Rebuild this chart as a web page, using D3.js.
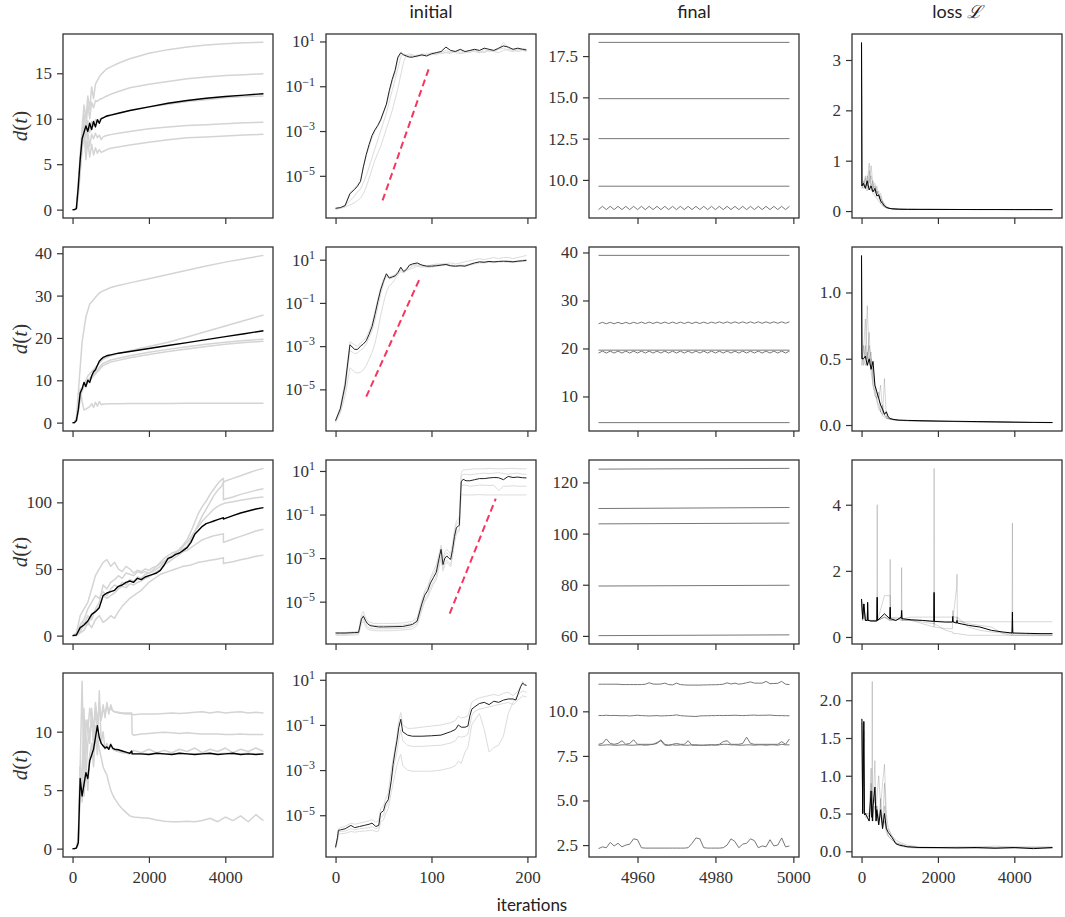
<!DOCTYPE html>
<html>
<head>
<meta charset="utf-8">
<script src="https://d3js.org/d3.v7.min.js"></script>
<style>
  body { margin: 0; background: #fff; }
</style>
</head>
<body>
<div id="chart-area"></div>
<script>
// ---------- data ----------
// iterations used by d(t) and loss panels of rows 1-2
var runX = [0,10,50,100,150,200,250,300,350,400,450,500,550,600,650,700,750,800,850,900,950,1000,1200,1500,2000,2500,3000,3500,4000,4500,4999];

var dist1Mean = [0,0,0,0.1,2.5,5.5,7.8,8.5,9.2,8.6,9.5,8.8,9.7,9.1,9.9,9.5,10.0,10.1,10.2,10.3,10.35,10.4,10.6,10.9,11.3,11.7,12.0,12.25,12.45,12.6,12.75];
var dist1Runs = [
  [0,0,0,0.1,3,6,9,11.5,10,12.5,11,13.5,12.2,13.8,14.2,14.6,14.9,15.1,15.3,15.5,15.6,15.7,16.1,16.6,17.2,17.6,17.9,18.1,18.25,18.35,18.4],
  [0,0,0,0.1,2.5,5.5,8,10.5,9,11.5,10,11.8,11.2,12,11.9,12.1,12.2,12.3,12.4,12.5,12.6,12.7,13.0,13.4,13.8,14.1,14.4,14.6,14.75,14.85,14.95],
  [0,0,0,0.1,2,5,8,9.5,8,9.8,8.5,9.7,9.2,9.9,9.6,9.9,10.0,10.1,10.2,10.3,10.3,10.4,10.6,10.9,11.3,11.6,11.9,12.1,12.3,12.45,12.5],
  [0,0,0,0.1,2,4.5,7,9,6.5,8.5,7,8.3,7.8,8.4,7.9,8.2,7.7,8.0,8.1,8.15,8.2,8.25,8.4,8.6,8.9,9.1,9.25,9.35,9.45,9.55,9.6],
  [0,0,0,0.1,1.5,4,6.5,8.5,5.5,7.5,5.8,7.2,6.0,6.8,6.2,6.6,6.3,6.4,6.5,6.6,6.7,6.75,6.9,7.1,7.4,7.7,7.9,8.0,8.1,8.2,8.3]
];
var dist2Mean = [0,0,0,0.5,3,7,8,9.5,8.5,10,9.5,11,12,12.5,13.5,14.5,15.0,15.4,15.6,15.8,15.9,16.0,16.4,16.8,17.5,18.2,18.9,19.6,20.3,21.0,21.7];
var dist2Runs = [
  [0,0,0,1,7,13,19,22,25,26.5,28,28.5,29,29.6,30.1,30.6,30.9,31.1,31.3,31.5,31.7,31.9,32.4,33.0,34.0,35.0,36.0,37.0,37.9,38.7,39.5],
  [0,0,0,0.5,3,6,8,9,10,11,11.5,12,12.5,13,13.5,14,14.5,15,15.2,15.4,15.6,15.8,16.3,17.0,18.0,19.0,20.2,21.5,22.8,24.1,25.4],
  [0,0,0,0.5,3,6,8,9,9.5,10,10.5,11,11.5,12,12.5,13,13.5,14,14.2,14.4,14.6,14.8,15.2,15.8,16.6,17.3,17.9,18.5,19.0,19.4,19.7],
  [0,0,0,0.5,2.5,5.5,7.5,8.5,9,9.5,10,10.5,11,11.5,12,12.5,13,13.5,13.7,13.9,14.1,14.3,14.7,15.3,16.1,16.8,17.4,18.0,18.5,18.9,19.2],
  [0,0,0,1,4,8,5,3,3.2,3.5,3.8,4.5,3.6,4.8,3.9,5.0,4.2,4.4,4.4,4.4,4.45,4.45,4.45,4.5,4.5,4.5,4.55,4.55,4.6,4.6,4.6]
];

var dist3X = [0,100,200,300,400,500,600,700,800,900,1000,1100,1200,1300,1400,1500,1600,1700,1800,1900,2000,2100,2200,2300,2400,2500,2600,2700,2800,2900,3000,3100,3200,3300,3400,3500,3600,3700,3800,3900,3950,3951,4000,4200,4400,4600,4800,4999];
var dist3Mean = [0,0.5,6,8,11,16,18,21,30,32,33,34,37,38,40,41,40,43,42,44,45,46,47,49,53,58,59,61,62,64,66,70,76,79,82,84,85,86,87,88,88.5,87.5,88,90,92,93.5,95,96];
var dist3Runs = [
  [0,1,8,12,20,25,30,28,33,30,35,38,36,40,38,42,41,44,43,46,47,49,52,55,58,60,62,63,64,65,67,72,78,84,90,95,100,105,109,112,115,115,116,118,120,122,124,125.5],
  [0,2,15,20,25,35,45,50,55,57,52,55,50,48,52,50,47,49,48,50,49,51,52,54,56,58,60,62,65,68,72,78,85,92,97,101,106,110,114,117,118,102,102.5,104,106,107.5,109,110.2],
  [0,0.5,3,8,15,12,20,25,38,35,40,42,45,43,47,46,45,48,47,48,47,48,50,52,55,57,59,62,64,67,70,74,78,82,86,89,92,95,97,98.5,99,99,99.5,100.5,101.5,102.5,103.5,104.1],
  [0,0.5,5,10,8,15,18,22,30,28,30,32,35,37,36,39,38,40,41,43,44,46,48,50,53,55,57,59,61,63,64,66,68,70,72,73,74,75,75.5,76,76.5,70,70.5,72.5,74.5,76.5,78.5,79.8],
  [0,0,2,4,10,6,12,15,10,12,15,13,18,22,25,28,30,32,34,37,40,42,44,46,47,48,49,50,51,52,52.5,53,54,55,55.5,56,56.5,57,57.5,58,58.5,54,54.5,55.5,57,58,59.5,60.4]
];

var dist4X = [0,50,100,150,200,250,300,350,400,450,500,550,600,650,700,750,800,850,900,950,1000,1050,1100,1200,1300,1400,1500,1550,1560,1600,1800,2000,2200,2400,2600,2800,3000,3200,3400,3600,3800,4000,4200,4400,4600,4800,4999];
var dist4Mean = [0,0,0.05,0.5,6,4.5,5.5,6.5,6,7.5,8,8.5,9.5,10.5,9.5,9,8.8,8.6,8.7,8.5,8.9,8.6,8.5,8.45,8.35,8.25,8.15,8.35,8.1,8.1,8.1,8.05,8.15,8.1,8.05,8.15,8.1,8.05,8.1,8.15,8.05,8.1,8.15,8.05,8.1,8.05,8.1];
var dist4Runs = [
  [0,0,0.05,0.5,7,5,12,6,9,10,11,9,12,10,12.5,11,12,11.5,12.2,11.8,12,11.8,11.7,11.6,11.55,11.5,11.5,11.5,11.5,11.45,11.5,11.5,11.5,11.55,11.6,11.55,11.6,11.65,11.7,11.6,11.7,11.6,11.65,11.7,11.6,11.65,11.6],
  [0,0,0.05,0.3,5,7,10,8,11,9,12,10,12.5,11,12,11,12.3,11.2,12.5,11.5,12.3,11.8,11.7,11.65,11.6,11.6,11.6,11.6,9.8,9.7,9.8,9.85,9.9,9.95,9.9,9.85,9.9,9.85,9.8,9.8,9.8,9.75,9.75,9.8,9.75,9.75,9.75],
  [0,0,0.05,0.5,7,4,6,7,5,8,9,7,10,8,13.5,9,10,8.5,9,8.5,9,8.5,8.4,8.3,8.25,8.2,8.2,8.3,8.2,8.4,8.2,8.5,8.2,8.4,8.2,8.5,8.3,8.6,8.2,8.5,8.3,8.6,8.2,8.5,8.3,8.6,8.3],
  [0,0,0.05,0.5,5,6,4.5,7,6,8,8.5,9,10,9.5,9.5,9,8.8,8.6,8.6,8.5,8.8,8.5,8.4,8.3,8.2,8.15,8.1,8.15,8.1,8.1,8.1,8.1,8.15,8.1,8.1,8.15,8.1,8.1,8.15,8.1,8.1,8.15,8.1,8.1,8.15,8.1,8.1],
  [0,0,0.05,1,7,14.3,6,11,10,12,11,9,10.5,9.5,8.5,7.8,7.0,6.6,6.3,5.6,5.0,4.6,4.3,3.8,3.4,3.1,2.8,2.75,2.75,2.7,2.65,2.6,2.45,2.35,2.3,2.3,2.35,2.3,2.4,2.6,2.3,2.7,2.4,2.8,2.3,2.9,2.4]
];

// "initial" panels: values are log10 of d(t)
var initX = [0,5,10,15,20,23,26,29,32,35,38,41,44,47,50,53,56,59,62,65,68,71,74,77,80,85,90,95,100,105,110,115,120,125,130,135,140,145,150,155,160,165,170,175,180,185,190,195,199];
var init1Mean = [-6.45,-6.42,-6.33,-5.8,-5.6,-5.45,-5.25,-4.6,-4.05,-3.6,-3.2,-2.95,-2.75,-2.5,-2.15,-1.8,-1.2,-0.7,-0.3,0.3,0.5,0.4,0.35,0.3,0.3,0.35,0.4,0.35,0.45,0.5,0.55,0.75,0.6,0.55,0.65,0.55,0.6,0.65,0.6,0.7,0.65,0.6,0.7,0.8,0.75,0.65,0.7,0.65,0.62];
var init1Runs = [
  [-6.45,-6.45,-6.35,-6.1,-5.9,-5.7,-5.6,-5.3,-5.0,-4.6,-4.2,-3.8,-3.4,-3.0,-2.6,-2.2,-1.7,-1.2,-0.7,-0.2,0.3,0.45,0.4,0.35,0.4,0.3,0.4,0.45,0.4,0.5,0.45,0.5,0.55,0.5,0.45,0.5,0.6,0.55,0.5,0.55,0.6,0.55,0.5,0.6,0.65,0.6,0.55,0.6,0.55],
  [-6.45,-6.45,-6.4,-6.3,-6.2,-6.1,-6.0,-5.8,-5.5,-5.1,-4.7,-4.3,-4.0,-3.7,-3.3,-2.9,-2.5,-2.1,-1.6,-1.1,-0.5,0.1,0.4,0.45,0.4,0.35,0.45,0.4,0.5,0.45,0.55,0.5,0.45,0.6,0.5,0.55,0.5,0.6,0.55,0.5,0.6,0.55,0.65,0.96,0.7,0.65,0.6,0.7,0.65],
  [-6.51,-6.45,-6.3,-5.75,-5.55,-5.4,-5.2,-4.6,-4.1,-3.7,-3.3,-3.0,-2.8,-2.55,-2.2,-1.85,-1.3,-0.8,-0.4,0.2,0.45,0.4,0.3,0.35,0.3,0.4,0.35,0.4,0.45,0.4,0.5,0.6,0.5,0.55,0.6,0.5,0.55,0.6,0.5,0.65,0.55,0.6,0.65,0.7,0.6,0.55,0.65,0.6,0.6]
];
var init2Mean = [-6.45,-5.9,-4.8,-2.94,-3.15,-3.15,-3.0,-2.9,-2.75,-2.45,-2.1,-1.55,-0.95,-0.4,0.0,0.35,0.15,0.2,0.25,0.4,0.65,0.45,0.55,0.75,0.8,0.85,0.75,0.7,0.7,0.72,0.75,0.78,0.72,0.7,0.72,0.7,0.78,0.85,0.9,0.88,0.92,0.9,0.92,0.93,0.92,0.9,0.93,0.95,0.97];
var init2Runs = [
  [-6.45,-6.0,-5.0,-3.2,-3.35,-3.3,-3.2,-3.1,-2.9,-2.6,-2.3,-1.8,-1.2,-0.6,-0.1,0.25,0.1,0.15,0.2,0.35,0.55,0.4,0.5,0.6,0.7,0.75,0.7,0.65,0.65,0.7,0.72,0.75,0.7,0.68,0.7,0.72,0.75,0.8,0.85,0.85,0.88,0.86,0.9,0.9,0.88,0.87,0.9,0.92,0.9],
  [-6.54,-6.1,-5.3,-4.0,-4.2,-4.25,-4.2,-4.1,-3.9,-3.6,-3.3,-2.9,-2.3,-1.6,-1.0,-0.5,-0.2,-0.1,0.1,0.3,0.45,0.4,0.5,0.55,0.6,0.7,0.65,0.7,0.75,0.8,0.78,0.82,0.85,0.8,0.85,0.9,0.95,1.0,1.05,1.0,1.05,1.1,1.05,1.1,1.1,1.05,1.1,1.15,1.2],
  [-6.45,-5.8,-4.6,-2.8,-2.95,-3.0,-2.85,-2.75,-2.6,-2.3,-1.95,-1.4,-0.85,-0.3,0.1,0.3,0.2,0.25,0.3,0.45,0.6,0.5,0.6,0.7,0.75,0.8,0.75,0.72,0.75,0.78,0.8,0.8,0.75,0.72,0.75,0.75,0.8,0.85,0.88,0.9,0.9,0.88,0.9,0.92,0.95,0.92,0.95,0.98,1.0]
];
var init3X = [0,5,10,15,20,24,27,29,31,33,36,40,45,50,60,70,80,85,90,93,96,99,102,105,108,110,112,114,116,118,120,122,124,126,128,129,131,133,136,140,145,150,155,160,165,170,175,180,185,190,195,199];
var init3Mean = [-6.44,-6.44,-6.44,-6.43,-6.42,-6.41,-5.8,-5.67,-5.85,-6.0,-6.1,-6.13,-6.16,-6.16,-6.15,-6.14,-6.05,-5.9,-5.1,-4.7,-4.5,-4.14,-3.9,-3.65,-3.0,-2.6,-3.3,-3.0,-2.9,-3.0,-3.06,-2.6,-2.0,-1.6,-1.53,-1.5,0.5,0.62,0.55,0.55,0.6,0.65,0.65,0.68,0.7,0.69,0.6,0.75,0.7,0.72,0.69,0.68];
var init3Runs = [
  [-6.42,-6.42,-6.42,-6.4,-6.38,-6.35,-5.6,-5.45,-5.7,-5.85,-5.95,-6.0,-6.0,-6.0,-6.0,-5.98,-5.9,-5.75,-4.9,-4.5,-4.3,-3.9,-3.6,-3.3,-2.8,-2.4,-3.0,-2.7,-2.6,-2.7,-2.8,-2.3,-1.7,-1.3,-1.2,-1.1,0.9,1.05,1.05,1.08,1.1,1.1,1.1,1.12,1.1,1.1,1.1,1.12,1.12,1.1,1.1,1.1],
  [-6.5,-6.5,-6.5,-6.49,-6.48,-6.47,-5.9,-5.8,-6.0,-6.15,-6.22,-6.25,-6.25,-6.25,-6.24,-6.22,-6.15,-6.0,-5.3,-4.9,-4.7,-4.35,-4.1,-3.85,-3.2,-2.9,-3.5,-3.2,-3.1,-3.2,-3.3,-2.8,-2.2,-1.8,-1.7,-1.65,0.3,0.35,0.35,0.3,0.32,0.35,0.35,0.33,0.35,0.1,0.3,0.3,0.32,0.3,0.3,0.3],
  [-6.56,-6.55,-6.55,-6.54,-6.53,-6.52,-6.0,-5.9,-6.1,-6.25,-6.3,-6.33,-6.34,-6.34,-6.33,-6.3,-6.25,-6.1,-5.4,-5.0,-4.8,-4.5,-4.2,-4.0,-3.4,-3.0,-3.6,-3.3,-3.2,-3.3,-3.4,-2.9,-2.3,-1.9,-1.8,-1.75,-0.05,-0.1,-0.1,-0.1,-0.1,-0.08,-0.1,-0.1,-0.1,-0.1,-0.1,-0.1,-0.1,-0.1,-0.1,-0.1],
  [-6.46,-6.46,-6.46,-6.45,-6.44,-6.43,-5.75,-5.6,-5.8,-5.95,-6.05,-6.1,-6.1,-6.1,-6.1,-6.08,-6.0,-5.85,-5.0,-4.6,-4.4,-4.0,-3.75,-3.5,-2.9,-2.5,-3.15,-2.85,-2.75,-2.85,-2.95,-2.45,-1.85,-1.45,-1.35,-1.3,0.75,0.85,0.85,0.82,0.85,0.88,0.9,0.88,0.9,0.92,0.88,0.85,0.88,0.9,0.85,0.85]
];
var init4X = [0,2,3,5,10,16,20,25,30,35,38,42,45,47,50,52,55,58,60,62,64,66,68,70,75,80,90,100,110,120,125,128,131,135,138,140,142,145,150,155,160,165,170,175,180,185,188,190,193,195,197,199];
var init4Mean = [-6.42,-6.0,-5.67,-5.65,-5.6,-5.45,-5.55,-5.5,-5.45,-5.4,-5.35,-5.5,-5.45,-4.9,-4.8,-4.5,-4.3,-3.5,-2.75,-2.2,-1.7,-1.1,-0.75,-1.3,-1.45,-1.5,-1.5,-1.48,-1.45,-1.3,-1.2,-1.0,-1.1,-1.1,-1.05,-0.6,-0.3,-0.2,-0.05,0.0,-0.1,0.05,0.0,0.1,0.15,0.15,0.1,0.35,0.7,0.85,0.78,0.75];
var init4Runs = [
  [-6.4,-5.9,-5.6,-5.55,-5.5,-5.35,-5.4,-5.35,-5.3,-5.25,-5.2,-5.3,-5.25,-4.7,-4.6,-4.3,-4.0,-3.0,-2.5,-2.0,-1.5,-0.8,-0.45,-1.0,-1.15,-1.15,-1.1,-1.05,-1.0,-0.9,-0.8,-0.6,-0.7,-0.65,-0.6,-0.3,0.0,0.1,0.2,0.25,0.3,0.35,0.3,0.4,0.45,0.3,0.4,0.5,0.7,0.93,0.8,0.8],
  [-6.45,-6.1,-5.75,-5.72,-5.7,-5.6,-5.65,-5.6,-5.58,-5.55,-5.5,-5.6,-5.55,-5.1,-5.0,-4.7,-4.4,-3.5,-3.0,-2.6,-2.2,-1.6,-1.2,-1.7,-1.9,-1.95,-1.95,-1.92,-1.9,-1.8,-1.7,-1.5,-1.55,-1.5,-1.4,-1.0,-0.6,-0.4,-0.3,-0.25,-0.2,-0.15,-0.1,-0.05,0.0,-0.1,0.0,0.1,0.2,0.3,0.25,0.25],
  [-6.48,-6.2,-5.85,-5.82,-5.8,-5.72,-5.75,-5.72,-5.7,-5.68,-5.65,-5.72,-5.7,-5.3,-5.2,-4.95,-4.7,-4.0,-3.6,-3.2,-2.8,-2.5,-2.3,-2.8,-3.0,-3.05,-3.05,-3.05,-3.0,-2.9,-2.8,-2.6,-2.7,-2.2,-2.0,-1.5,-1.0,-0.8,-0.5,-1.2,-2.2,-2.0,-1.9,-1.5,-0.5,0.0,0.2,0.3,0.45,0.5,0.48,0.45]
];
// dashed growth guides (x in iterations, y as log10)
var guideX = [[49, 98], [32, 88], [119, 167], null];
var guideY = [[-6.1, -0.12], [-5.34, 0.15], [-5.55, -0.27], null];

// "final" panels: iterations 4950..4999; two-value arrays are the flat runs
var final1Runs = [
  [18.33, 18.33], [14.92, 14.92], [12.5, 12.5], [9.62, 9.62],
  [8.2,8.4,8.2,8.4,8.2,8.4,8.2,8.4,8.2,8.4,8.2,8.4,8.2,8.4,8.2,8.4,8.2,8.4,8.2,8.4,8.2,8.4,8.2,8.4,8.2,8.4,8.2,8.4,8.2,8.4,8.2,8.4,8.2,8.4,8.2,8.4,8.2,8.4,8.2,8.4,8.2,8.4,8.2,8.4,8.2,8.4,8.2,8.4,8.2,8.4]
];
var final2Runs = [
  [39.4, 39.4],
  [25.15,25.45,25.15,25.45,25.15,25.45,25.15,25.45,25.15,25.45,25.2,25.5,25.2,25.5,25.2,25.5,25.2,25.5,25.2,25.5,25.2,25.5,25.2,25.5,25.2,25.5,25.2,25.5,25.2,25.5,25.25,25.55,25.25,25.55,25.25,25.55,25.25,25.55,25.25,25.55,25.25,25.55,25.25,25.55,25.25,25.55,25.25,25.55,25.25,25.55],
  [19.65, 19.65],
  [19.05,19.45,19.05,19.45,19.05,19.45,19.05,19.45,19.05,19.45,19.05,19.45,19.05,19.45,19.05,19.45,19.05,19.45,19.05,19.45,19.05,19.45,19.05,19.45,19.05,19.45,19.05,19.45,19.05,19.45,19.05,19.45,19.05,19.45,19.05,19.45,19.05,19.45,19.05,19.45,19.05,19.45,19.05,19.45,19.05,19.45,19.05,19.45,19.05,19.45],
  [4.55, 4.55]
];
var final3Runs = [[125.2, 125.5], [109.8, 110.2], [103.8, 104.1], [79.5, 79.8], [60.1, 60.4]];
var final4Runs = [
  [11.52,11.52,11.52,11.52,11.52,11.52,11.5,11.5,11.5,11.5,11.5,11.5,11.52,11.6,11.53,11.52,11.53,11.58,11.5,11.48,11.58,11.5,11.48,11.47,11.47,11.47,11.47,11.48,11.48,11.49,11.49,11.5,11.52,11.6,11.53,11.58,11.52,11.55,11.6,11.65,11.58,11.58,11.58,11.68,11.55,11.56,11.57,11.68,11.52,11.5],
  [9.77,9.76,9.78,9.76,9.77,9.76,9.75,9.76,9.74,9.76,9.78,9.76,9.75,9.74,9.75,9.76,9.74,9.75,9.76,9.77,9.8,9.76,9.74,9.73,9.72,9.71,9.74,9.75,9.75,9.76,9.76,9.77,9.76,9.77,9.77,9.78,9.77,9.76,9.77,9.78,9.79,9.77,9.78,9.78,9.79,9.77,9.76,9.76,9.75,9.75],
  [8.15,8.2,8.45,8.2,8.15,8.2,8.35,8.15,8.2,8.4,8.15,8.15,8.15,8.15,8.15,8.2,8.4,8.15,8.1,8.15,8.2,8.15,8.15,8.35,8.1,8.1,8.1,8.1,8.1,8.12,8.12,8.15,8.3,8.35,8.15,8.15,8.15,8.2,8.55,8.2,8.15,8.15,8.15,8.15,8.15,8.15,8.15,8.3,8.15,8.45],
  [8.1,8.1,8.12,8.12,8.1,8.1,8.12,8.12,8.1,8.1,8.12,8.12,8.1,8.12,8.15,8.25,8.35,8.1,8.1,8.12,8.1,8.12,8.1,8.1,8.12,8.12,8.1,8.1,8.12,8.12,8.1,8.12,8.15,8.15,8.12,8.12,8.1,8.1,8.12,8.12,8.1,8.12,8.12,8.1,8.12,8.12,8.1,8.15,8.12,8.12],
  [2.3,2.4,2.35,2.65,2.45,2.6,2.4,2.5,2.55,2.85,2.8,2.35,2.33,2.33,2.33,2.33,2.33,2.33,2.33,2.33,2.33,2.33,2.33,2.35,2.6,2.9,2.85,2.35,2.33,2.33,2.33,2.33,2.35,2.5,2.85,2.7,2.35,2.55,2.6,2.85,2.75,2.35,2.45,2.4,2.8,2.45,2.5,2.9,2.4,2.45]
];

// loss panels
var loss1Mean = [3.35,0.5,0.55,0.45,0.6,0.42,0.5,0.38,0.45,0.3,0.32,0.2,0.15,0.1,0.07,0.06,0.05,0.045,0.042,0.04,0.038,0.036,0.034,0.033,0.032,0.031,0.03,0.03,0.029,0.029,0.028];
var loss1Runs = [
  [3.3,0.5,0.6,0.5,0.7,0.55,0.9,0.5,0.4,0.5,0.3,0.25,0.2,0.12,0.08,0.06,0.05,0.045,0.042,0.04,0.038,0.036,0.034,0.033,0.032,0.031,0.03,0.03,0.029,0.029,0.028],
  [3.3,0.45,0.5,0.7,0.45,0.8,0.5,0.6,0.35,0.4,0.25,0.3,0.12,0.15,0.08,0.07,0.05,0.045,0.042,0.04,0.038,0.036,0.034,0.033,0.032,0.031,0.03,0.03,0.029,0.029,0.028],
  [3.35,0.5,0.55,0.45,0.6,0.95,0.4,0.5,0.55,0.35,0.4,0.15,0.2,0.08,0.1,0.05,0.05,0.045,0.042,0.04,0.038,0.036,0.034,0.033,0.032,0.031,0.03,0.03,0.029,0.029,0.028],
  [3.3,0.5,0.45,0.5,0.4,0.5,0.45,0.35,0.3,0.25,0.2,0.15,0.1,0.08,0.06,0.055,0.05,0.045,0.042,0.04,0.038,0.036,0.034,0.033,0.032,0.031,0.03,0.03,0.029,0.029,0.028],
  [3.3,0.55,0.5,0.65,0.5,0.6,0.7,0.45,0.5,0.4,0.3,0.35,0.18,0.1,0.08,0.06,0.05,0.045,0.042,0.04,0.038,0.036,0.034,0.033,0.032,0.031,0.03,0.03,0.029,0.029,0.028]
];
var loss2Mean = [1.28,0.5,0.5,0.52,0.45,0.5,0.42,0.48,0.3,0.25,0.2,0.15,0.12,0.08,0.1,0.06,0.05,0.045,0.042,0.04,0.038,0.037,0.035,0.033,0.03,0.028,0.026,0.024,0.022,0.02,0.019];
var loss2Runs = [
  [1.25,0.5,0.55,0.8,0.5,0.6,0.5,0.4,0.3,0.25,0.2,0.3,0.1,0.08,0.06,0.05,0.045,0.042,0.04,0.038,0.037,0.035,0.033,0.03,0.028,0.026,0.024,0.022,0.02,0.019,0.018],
  [1.2,0.45,0.6,0.5,0.9,0.5,0.55,0.35,0.28,0.2,0.25,0.1,0.15,0.07,0.06,0.05,0.045,0.042,0.04,0.038,0.037,0.035,0.033,0.03,0.028,0.026,0.024,0.022,0.02,0.019,0.018],
  [1.28,0.55,0.45,0.6,0.45,0.7,0.4,0.3,0.25,0.18,0.12,0.1,0.08,0.35,0.05,0.05,0.045,0.042,0.04,0.038,0.037,0.035,0.033,0.03,0.028,0.026,0.024,0.022,0.02,0.019,0.018],
  [1.25,0.5,0.5,0.45,0.55,0.45,0.5,0.3,0.22,0.2,0.15,0.1,0.07,0.06,0.05,0.045,0.042,0.04,0.038,0.037,0.035,0.034,0.032,0.03,0.028,0.026,0.024,0.022,0.02,0.019,0.018]
];
var loss3X = [0,30,60,100,150,160,170,250,400,410,420,600,740,750,760,900,1040,1050,1060,1300,1600,1890,1900,1910,2200,2380,2390,2400,2490,2500,2510,2800,3100,3400,3700,3940,3950,3960,4300,4700,4999];
var loss3Mean = [1.15,0.55,1.0,0.5,0.5,1.05,0.5,0.48,0.48,1.2,0.5,0.7,0.55,0.9,0.55,0.5,0.6,0.8,0.55,0.52,0.5,0.47,1.35,0.47,0.45,0.45,0.62,0.45,0.42,0.5,0.42,0.35,0.3,0.2,0.15,0.12,0.75,0.12,0.11,0.1,0.1];
var loss3Runs = [
  [1.1,0.6,1.0,0.5,0.5,0.8,0.5,0.5,0.5,4.0,0.5,1.25,1.25,1.25,0.6,0.55,0.5,0.6,0.5,0.5,0.5,0.48,0.48,0.48,0.47,0.47,0.5,0.47,0.46,0.6,0.46,0.46,0.46,0.46,0.46,0.46,0.46,0.46,0.46,0.46,0.46],
  [1.0,0.55,0.9,0.5,0.5,0.9,0.5,0.5,0.5,1.2,0.5,0.6,0.55,2.35,0.55,0.6,0.55,0.6,0.55,0.6,0.6,0.6,5.1,0.6,0.6,0.6,0.6,0.6,0.6,0.6,0.6,0.3,0.2,0.15,0.12,0.1,0.3,0.1,0.08,0.07,0.06],
  [1.1,0.5,1.0,0.5,0.5,1.0,0.5,0.5,0.5,1.0,0.5,0.6,0.5,0.8,0.5,0.5,0.6,2.1,0.5,0.5,0.4,0.3,0.5,0.3,0.25,0.25,0.8,0.6,1.5,1.9,0.5,0.4,0.35,0.3,0.1,0.05,0.05,0.05,0.05,0.05,0.05],
  [1.1,0.5,1.0,0.5,0.5,1.0,0.5,0.5,0.5,1.2,0.5,0.6,0.5,0.9,0.5,0.5,0.55,0.8,0.55,0.5,0.45,0.4,1.3,0.4,0.2,0.15,0.15,0.1,0.1,0.1,0.1,0.05,0.05,0.05,0.05,0.05,3.45,0.05,0.04,0.04,0.04]
];
var loss4X = [0,10,30,60,75,85,100,150,200,250,270,280,290,300,350,380,400,450,500,550,600,650,700,800,900,1000,1100,1200,1500,2000,2500,3000,3500,4000,4500,4999];
var loss4Mean = [1.75,1.75,0.5,1.72,0.5,0.48,0.5,0.45,0.4,0.8,0.45,0.5,0.4,0.6,0.85,0.4,0.55,0.35,0.55,0.3,0.5,0.3,0.25,0.18,0.1,0.08,0.07,0.06,0.05,0.05,0.045,0.05,0.04,0.05,0.035,0.05];
var loss4Runs = [
  [1.7,1.7,0.5,1.6,0.5,0.5,0.5,0.5,0.45,0.9,0.5,2.25,0.5,0.6,0.7,0.5,0.6,0.4,0.7,0.35,0.9,0.3,0.2,0.15,0.1,0.1,0.08,0.06,0.05,0.05,0.06,0.05,0.07,0.05,0.06,0.05],
  [1.6,1.6,0.5,1.7,0.55,0.5,0.5,0.5,0.5,1.1,0.5,0.8,0.5,0.6,1.2,0.5,0.7,1.0,0.6,0.9,1.15,0.5,0.3,0.2,0.15,0.12,0.1,0.08,0.06,0.05,0.05,0.06,0.05,0.06,0.05,0.06],
  [1.75,1.75,0.5,1.5,0.5,0.5,0.45,0.45,0.4,0.6,0.4,0.5,0.4,0.5,0.6,0.4,0.5,0.35,0.5,0.3,0.4,0.25,0.2,0.15,0.1,0.07,0.06,0.05,0.04,0.04,0.04,0.04,0.04,0.04,0.04,0.04],
  [1.7,1.7,0.5,1.6,0.5,0.5,0.5,0.45,0.5,0.7,0.5,0.6,0.45,0.55,0.8,0.45,0.6,0.4,0.6,0.35,0.6,0.3,0.3,0.2,0.12,0.09,0.08,0.06,0.05,0.04,0.05,0.04,0.05,0.04,0.05,0.04]
];

// ticks
var distTicks = [[0,5,10,15],[0,10,20,30,40],[0,50,100],[0,5,10]];
var initTickExp = [-5,-3,-1,1];
var finalTicks = [[10,12.5,15,17.5],[10,20,30,40],[60,80,100,120],[2.5,5,7.5,10]];
var lossTicks = [[0,1,2,3],[0,0.5,1],[0,2,4],[0,0.5,1,1.5,2]];
var xTicks = [[0,2000,4000],[0,100,200],[4960,4980,5000],[0,2000,4000]];
var colTitles = ['', 'initial', 'final', 'loss '];

// ---------- layout ----------
var colLeft = [63, 326, 589, 852], rowTop = [34, 247, 460, 673];
var pw = 210, ph = 184;
var serif = '"Liberation Serif", "DejaVu Serif", serif';
var sans = 'Lato, "Open Sans", sans-serif';

var svg = d3.select('#chart-area').append('svg')
    .attr('width', 1065).attr('height', 917);

var rows = [
  { dX: runX, dMean: dist1Mean, dRuns: dist1Runs, iX: initX, iMean: init1Mean, iRuns: init1Runs, fin: final1Runs, lX: runX, lMean: loss1Mean, lRuns: loss1Runs },
  { dX: runX, dMean: dist2Mean, dRuns: dist2Runs, iX: initX, iMean: init2Mean, iRuns: init2Runs, fin: final2Runs, lX: runX, lMean: loss2Mean, lRuns: loss2Runs },
  { dX: dist3X, dMean: dist3Mean, dRuns: dist3Runs, iX: init3X, iMean: init3Mean, iRuns: init3Runs, fin: final3Runs, lX: loss3X, lMean: loss3Mean, lRuns: loss3Runs },
  { dX: dist4X, dMean: dist4Mean, dRuns: dist4Runs, iX: init4X, iMean: init4Mean, iRuns: init4Runs, fin: final4Runs, lX: loss4X, lMean: loss4Mean, lRuns: loss4Runs }
];

function padded(vals) {
  var e = d3.extent(vals), p = (e[1] - e[0]) * 0.05;
  return [e[0] - p, e[1] + p];
}

function finalX(arr) {
  return arr.length == 2 ? [4950, 4999] : d3.range(4950, 4950 + arr.length);
}

function makePanel(r, c) {
  var g = svg.append('g')
      .attr('transform', 'translate(' + colLeft[c] + ',' + rowTop[r] + ')');
  var id = 'clip' + r + '' + c;
  g.append('clipPath').attr('id', id)
      .append('rect').attr('width', pw).attr('height', ph);
  var plot = g.append('g').attr('clip-path', 'url(#' + id + ')');
  return { g: g, plot: plot };
}

function addLine(plot, xs, ys, x, y, stroke, width, opacity, dash) {
  var line = d3.line().x(function (d) { return x(d[0]); }).y(function (d) { return y(d[1]); });
  plot.append('path')
      .datum(xs.map(function (v, i) { return [v, ys[i]]; }))
      .attr('d', line)
      .attr('fill', 'none')
      .attr('stroke', stroke)
      .attr('stroke-width', width)
      .attr('stroke-opacity', opacity == null ? 1 : opacity)
      .attr('stroke-linejoin', 'round')
      .attr('stroke-dasharray', dash || null);
}

function styleAxis(ax) {
  ax.select('.domain').remove();
  ax.selectAll('.tick line').attr('stroke', '#333').attr('stroke-width', 1.2);
  ax.selectAll('.tick text')
      .attr('fill', '#333')
      .style('font-family', serif)
      .style('font-size', '17px');
}

function finishPanel(p, r, c, x, y, yTicks, yFmt, isLog) {
  var yAxis = d3.axisLeft(y).tickValues(yTicks).tickSize(6).tickPadding(5);
  if (!isLog) yAxis.tickFormat(yFmt);
  var ay = p.g.append('g').call(yAxis);
  styleAxis(ay);
  if (isLog) {
    ay.selectAll('.tick text').each(function (d) {
      var e = Math.round(Math.log10(d));
      var t = d3.select(this).text('10');
      t.append('tspan').attr('dy', '-0.55em').style('font-size', '12px')
          .text(e < 0 ? '\u2212' + (-e) : String(e));
    });
  }
  var xAxis = d3.axisBottom(x).tickValues(xTicks[c]).tickSize(6).tickPadding(8)
      .tickFormat(r == 3 ? d3.format('d') : function () { return ''; });
  var ax = p.g.append('g').attr('transform', 'translate(0,' + ph + ')').call(xAxis);
  styleAxis(ax);
  p.g.append('rect').attr('width', pw).attr('height', ph)
      .attr('fill', 'none').attr('stroke', '#333').attr('stroke-width', 1.3);
}

rows.forEach(function (row, r) {
  // column 1: d(t)
  var p = makePanel(r, 0);
  var x = d3.scaleLinear().domain(padded([0, 4999])).range([0, pw]);
  var y = d3.scaleLinear().domain(padded(d3.merge(row.dRuns.concat([row.dMean])))).range([ph, 0]);
  row.dRuns.forEach(function (s) { addLine(p.plot, row.dX, s, x, y, '#d4d4d4', 1.5); });
  addLine(p.plot, row.dX, row.dMean, x, y, '#000', 1.4);
  finishPanel(p, r, 0, x, y, distTicks[r], d3.format('d'), false);

  var lab = svg.append('text')
      .attr('transform', 'translate(27,' + (rowTop[r] + ph / 2) + ') rotate(-90)')
      .attr('text-anchor', 'middle')
      .attr('fill', '#333')
      .style('font-family', serif)
      .style('font-size', '21px');
  lab.append('tspan').style('font-style', 'italic').text('d');
  lab.append('tspan').text('(');
  lab.append('tspan').style('font-style', 'italic').text('t');
  lab.append('tspan').text(')');

  // column 2: initial, log scale
  p = makePanel(r, 1);
  x = d3.scaleLinear().domain(padded(row.iX)).range([0, pw]);
  var ld = padded(d3.merge(row.iRuns.concat([row.iMean])));
  y = d3.scaleLog().domain([Math.pow(10, ld[0]), Math.pow(10, ld[1])]).range([ph, 0]);
  var pow = function (s) { return s.map(function (v) { return Math.pow(10, v); }); };
  row.iRuns.forEach(function (s) { addLine(p.plot, row.iX, pow(s), x, y, '#dcdcdc', 1); });
  addLine(p.plot, row.iX, pow(row.iMean), x, y, '#222', 1);
  if (guideX[r]) addLine(p.plot, guideX[r], pow(guideY[r]), x, y, '#f5365f', 2, 1, '7,4');
  finishPanel(p, r, 1, x, y, initTickExp.map(function (e) { return Math.pow(10, e); }), null, true);

  // column 3: final
  p = makePanel(r, 2);
  x = d3.scaleLinear().domain(padded([4950, 4999])).range([0, pw]);
  y = d3.scaleLinear().domain(padded(d3.merge(row.fin))).range([ph, 0]);
  row.fin.forEach(function (s) { addLine(p.plot, finalX(s), s, x, y, '#777', 1); });
  finishPanel(p, r, 2, x, y, finalTicks[r], (r == 0 || r == 3) ? d3.format('.1f') : d3.format('d'), false);

  // column 4: loss
  p = makePanel(r, 3);
  x = d3.scaleLinear().domain(padded([0, 4999])).range([0, pw]);
  y = d3.scaleLinear().domain(padded(d3.merge(row.lRuns.concat([row.lMean])))).range([ph, 0]);
  row.lRuns.forEach(function (s) { addLine(p.plot, row.lX, s, x, y, '#000', 1, 0.16); });
  addLine(p.plot, row.lX, row.lMean, x, y, '#000', 1);
  finishPanel(p, r, 3, x, y, lossTicks[r], (r == 1 || r == 3) ? d3.format('.1f') : d3.format('d'), false);
});

// column titles
colTitles.forEach(function (t, c) {
  if (!t) return;
  var tt = svg.append('text')
      .attr('x', colLeft[c] + pw / 2).attr('y', 18)
      .attr('text-anchor', 'middle')
      .attr('fill', '#222')
      .style('font-family', sans)
      .style('font-size', '18px')
      .text(t);
  if (c == 3) tt.append('tspan').style('font-family', '"DejaVu Serif", serif').style('font-style', 'italic').text('\u2112');
});

svg.append('text')
    .attr('x', 532).attr('y', 911)
    .attr('text-anchor', 'middle')
    .attr('fill', '#222')
    .style('font-family', sans)
    .style('font-size', '17px')
    .text('iterations');
</script>
</body>
</html>
